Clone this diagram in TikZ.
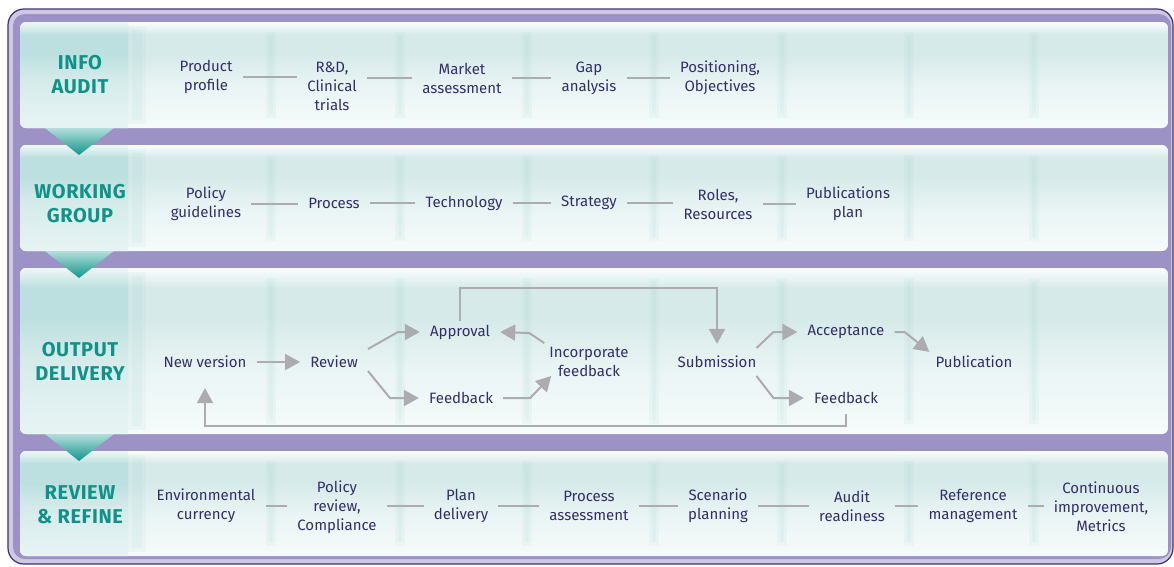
\documentclass[tikz,border=0pt]{standalone}
\usepackage{fontspec}
\setmainfont{Fira Sans}
\newfontfamily\stagefont[LetterSpace=3]{Fira Sans}
\usepackage{tikz}
\usetikzlibrary{arrows.meta, positioning}

\definecolor{frame}{RGB}{62,48,112}
\definecolor{lav}{RGB}{156,146,197}
\definecolor{lavlight}{RGB}{206,200,229}
\definecolor{ink}{RGB}{52,46,104}
\definecolor{tealtxt}{RGB}{16,146,136}
\definecolor{wire}{RGB}{172,172,176}
\definecolor{ptop}{RGB}{250,253,253}
\definecolor{pmid}{RGB}{214,234,233}
\definecolor{plow}{RGB}{233,244,244}
\definecolor{pbot}{RGB}{246,251,251}
\definecolor{ctop}{RGB}{238,247,247}
\definecolor{cmid}{RGB}{188,224,223}
\definecolor{clow}{RGB}{212,235,234}
\definecolor{cbot}{RGB}{232,244,244}
\definecolor{stripec}{RGB}{160,210,208}
\definecolor{tritop}{RGB}{180,222,220}
\definecolor{tribot}{RGB}{16,150,138}

\pgfdeclareverticalshading{panel}{100bp}{color(0bp)=(pbot); color(25bp)=(pbot); color(45bp)=(plow); color(60bp)=(pmid); color(69bp)=(pmid); color(75bp)=(ptop); color(100bp)=(ptop)}
\pgfdeclareverticalshading{column}{100bp}{color(0bp)=(cbot); color(25bp)=(cbot); color(48bp)=(clow); color(60bp)=(cmid); color(69bp)=(cmid); color(75bp)=(ctop); color(100bp)=(ctop)}

\tikzset{
  item/.style={text=ink, align=center, inner xsep=10pt, inner ysep=4pt, font=\fontsize{15}{19}\selectfont},
  stage/.style={text=tealtxt, align=center, font=\stagefont\bfseries\fontsize{20}{24}\selectfont},
  link/.style={draw=wire, line width=2pt},
  flow/.style={link, -{Triangle[length=15pt,width=16pt]}},
  stripe/.style={fill=stripec, opacity=.1},
}

\begin{document}
\begin{tikzpicture}[x=1pt, y=-1pt]
    \useasboundingbox (0,0) rectangle (1174,566);

    % frame
    \fill[lavlight, rounded corners=16pt] (8,9) rectangle (1173,564);
    \fill[lav, rounded corners=12pt] (13,14) rectangle (1171,559);
    \draw[frame, line width=1.2pt, rounded corners=16pt] (8,9) rectangle (1173,564);

    % panels
    \foreach \t/\b in {22/128, 145/251, 268/434, 451/556}{
      \begin{scope}
        \clip[rounded corners=6pt] (20,\t) rectangle (1168,\b);
        \shade[shading=panel] (20,\t) rectangle (1168,\b);
        \shade[shading=column] (20,\t) rectangle (128,\b);
        \fill[stripe] (128,\t+4) rectangle (146,\b-4);
        \fill[stripe] (132,\t+8) rectangle (142,\b-8);
        \foreach \x in {268, 397, 524, 651, 779, 906, 1031}{
          \fill[stripe] (\x-2,\t+10) rectangle (\x+8,\b-10);
          \fill[stripe] (\x+1,\t+14) rectangle (\x+5,\b-14);
        }
      \end{scope}
    }
    \foreach \b in {128, 251, 434}
      \shade[top color=tritop, bottom color=tribot] (45,\b) -- (114,\b) -- (79,\b+27) -- cycle;

    % stages
    \node[stage] (T1) at (80,75)  {INFO\\AUDIT};
    \node[stage] (T2) at (80,204) {WORKING\\GROUP};
    \node[stage] (T3) at (80,361) {OUTPUT\\DELIVERY};
    \node[stage] (T4) at (80,505) {REVIEW\\\& REFINE};

    % info audit
    \node[item] (I1) at (206,77) {Product\\profile};
    \node[item] (I2) at (332,86) {R\&D,\\Clinical\\trials};
    \node[item] (I3) at (462,78) {Market\\assessment};
    \node[item] (I4) at (589,78) {Gap\\analysis};
    \node[item] (I5) at (720,78) {Positioning,\\Objectives};
    \draw[link] (I1) -- (I1 -| I2.west);
    \draw[link] (I3) -- (I3 -| I2.east);
    \draw[link] (I3) -- (I4);
    \draw[link] (I4) -- (I5);

    % working group
    \node[item] (W1) at (206,204) {Policy\\guidelines};
    \node[item] (W2) at (334,203) {Process};
    \node[item] (W3) at (464,203) {Technology};
    \node[item] (W4) at (589,203) {Strategy};
    \node[item] (W5) at (718,204) {Roles,\\Resources};
    \node[item] (W6) at (848,204) {Publications\\plan};
    \draw[link] (W1) -- (W1 -| W2.west);
    \draw[link] (W2) -- (W3);
    \draw[link] (W3) -- (W4);
    \draw[link] (W4) -- (W4 -| W5.west);
    \draw[link] (W6) -- (W6 -| W5.east);

    % output delivery
    \node[item] (NV)  at (205,362) {New version};
    \node[item] (Rv)  at (334,362) {Review};
    \node[item] (Ap)  at (460,332) {Approval};
    \node[item] (Fb)  at (461,398) {Feedback};
    \node[item] (Ic)  at (589,362) {Incorporate\\feedback};
    \node[item] (Sb)  at (717,362) {Submission};
    \node[item] (Ac)  at (846,332) {Acceptance};
    \node[item] (Fb2) at (846,398) {Feedback};
    \node[item] (Pb)  at (974,362) {Publication};
    \draw[flow] (NV) -- (Rv);
    \draw[flow] ([yshift=13pt]Rv.east) -- ++(30,-17) -- (Ap.west);
    \draw[flow] ([yshift=-9pt]Rv.east) -- ++(22,27) -- (Fb.west);
    \draw[flow] (Fb.east) -- ++(27,0) -- ([xshift=12pt,yshift=5pt]Ic.south west);
    \draw[flow] ([xshift=5pt]Ic.north west) -- ++(-15,-10) -- (Ap.east);
    \draw[flow] (Ap.north) -- ++(0,-33) -| ([yshift=8pt]Sb.north);
    \draw[flow] ([xshift=-10pt,yshift=14pt]Sb.east) -- ++(17,-16) -- (Ac.west);
    \draw[flow] ([xshift=-10pt,yshift=-14pt]Sb.east) -- ++(17,22) -- (Fb2.west);
    \draw[flow] (Ac.east) -- ++(10,0) -- ([xshift=4pt]Pb.north west);
    \draw[flow] ([yshift=-6pt]Fb2.south) -- ++(0,12) -| ([yshift=-16pt]NV.south);

    % review and refine
    \node[item] (R1) at (206,506)  {Environmental\\currency};
    \node[item] (R2) at (337,507)  {Policy\\review,\\Compliance};
    \node[item] (R3) at (461,506)  {Plan\\delivery};
    \node[item] (R4) at (589,506)  {Process\\assessment};
    \node[item] (R5) at (718,506)  {Scenario\\planning};
    \node[item] (R6) at (852,506)  {Audit\\readiness};
    \node[item] (R7) at (973,506)  {Reference\\management};
    \node[item] (R8) at (1101,507) {Continuous\\improvement,\\Metrics};
    \draw[link] (R1) -- (R1 -| R2.west);
    \draw[link] (R3) -- (R3 -| R2.east);
    \draw[link] (R3) -- (R4);
    \draw[link] (R4) -- (R5);
    \draw[link] (R5) -- (R6);
    \draw[link] (R6) -- (R7);
    \draw[link] (R7) -- (R7 -| R8.west);
\end{tikzpicture}
\end{document}
